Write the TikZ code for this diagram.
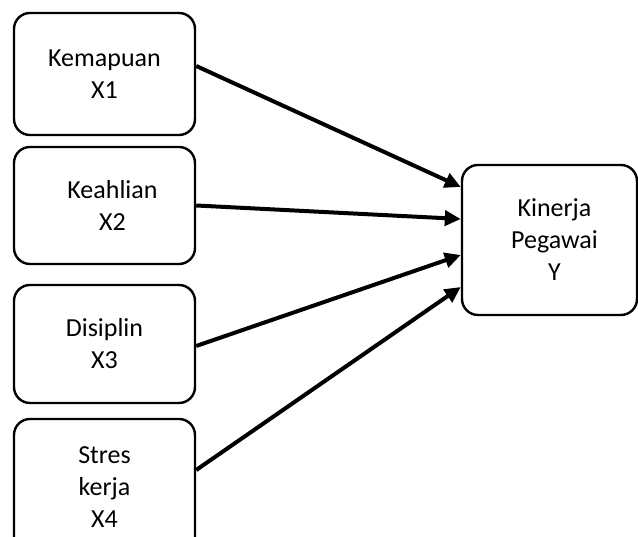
\documentclass[tikz,border=0pt]{standalone}
\usepackage{fontspec}
\setmainfont{Carlito}
\usetikzlibrary{arrows.meta}

\begin{document}
\begin{tikzpicture}[x=1pt,y=1pt,
  varbox/.style={draw,line width=2.4pt,rounded corners=16pt,align=center,
    minimum width=181pt,inner sep=0pt,font=\fontsize{26}{32}\selectfont},
  link/.style={line width=4pt,-{Triangle[length=16pt,width=15pt]}}]
\clip (0,0) rectangle (638,537);

\node[varbox,minimum height=122pt] (x1) at (104.5,463) {Kemapuan\\X1};
\node[varbox,minimum height=117pt] (x2) at (104.5,331.5) {\hspace*{16pt}Keahlian\\\hspace*{16pt}X2};
\node[varbox,minimum height=118pt] (x3) at (104.5,193) {Disiplin\\X3};
\node[varbox,minimum height=136pt] (x4) at (104.5,50) {Stres\\kerja\\X4};

\node[varbox,minimum width=175pt,minimum height=150pt] (y) at (549.5,297)
  {\hspace*{10pt}Kinerja\\\hspace*{10pt}Pegawai\\\hspace*{10pt}Y};

\draw[link] ([yshift=8pt]x1.east) -- ([yshift=53pt]y.west);
\draw[link] (x2.east) -- ([yshift=21pt]y.west);
\draw[link] ([yshift=-2pt]x3.east) -- ([yshift=-15pt]y.west);
\draw[link] ([yshift=17pt]x4.east) -- ([yshift=-47pt]y.west);
\end{tikzpicture}
\end{document}
